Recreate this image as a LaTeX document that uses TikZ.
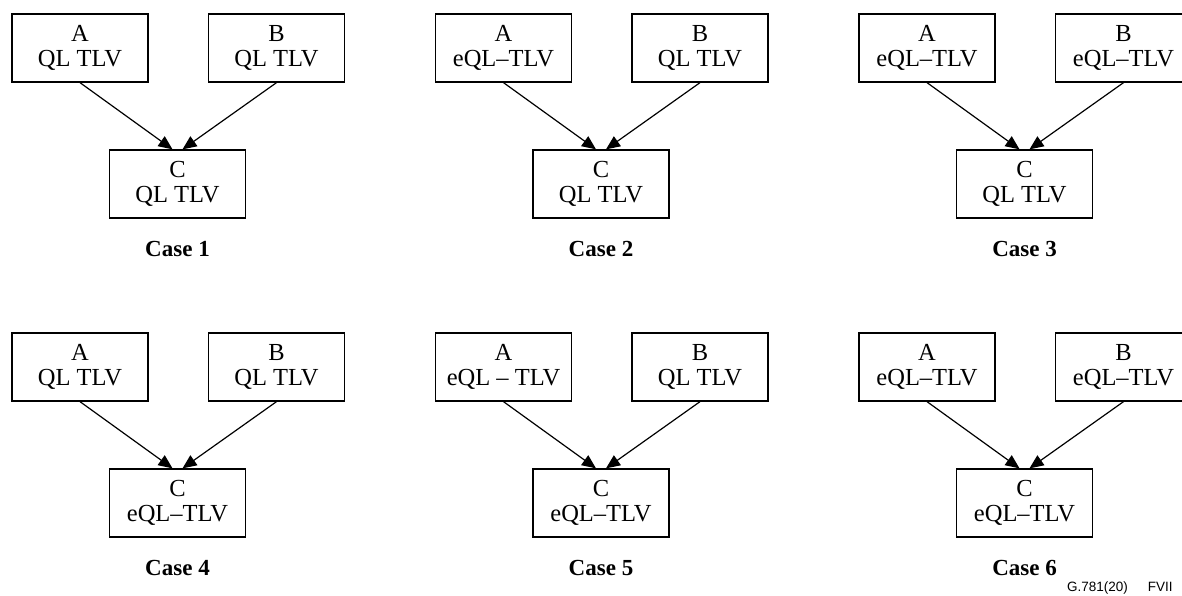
\documentclass[tikz,border=0pt]{standalone}
\usepackage{fontspec}
\setmainfont{Liberation Serif}
\newfontfamily\arialfont{Liberation Sans}
\usetikzlibrary{arrows.meta}
\tikzset{
  tlvbox/.style={draw, line width=1.3pt, minimum width=136pt, minimum height=68pt, inner sep=0pt, align=center, font=\fontsize{24.5}{25}\selectfont},
  caselabel/.style={anchor=base, inner sep=0pt, font=\fontsize{23}{25}\selectfont\bfseries},
  feed/.style={line width=1.2pt, -{Triangle[length=14pt,width=12pt]}}
}
\newcommand\drawcase[7]{%
  \begin{scope}[shift={(#2,#3)}]
    \node[tlvbox] (a#1) at (80,48) {A\\#4};
    \node[tlvbox] (b#1) at (276.5,48) {B\\#5};
    \node[tlvbox] (c#1) at (177.5,184) {C\\#6};
    \node[caselabel] (l#1) at (177.5,256) {#7};
    \coordinate (ca#1) at ([xshift=-5pt]c#1.north);
    \coordinate (cb#1) at ([xshift=5pt]c#1.north);
    \draw[feed] (a#1.south) -- (ca#1);
    \draw[feed] (b#1.south) -- (cb#1);
  \end{scope}}
\begin{document}
\begin{tikzpicture}[x=1pt,y=-1pt]
\useasboundingbox (0,0) rectangle (1182,596);
\clip (0,0) rectangle (1182,596);
\drawcase{1}{0}{0}{QL TLV}{QL TLV}{QL TLV}{Case 1}
\drawcase{2}{423.5}{0}{eQL--TLV}{QL TLV}{QL TLV}{Case 2}
\drawcase{3}{847}{0}{eQL--TLV}{eQL--TLV}{QL TLV}{Case 3}
\drawcase{4}{0}{319}{QL TLV}{QL TLV}{eQL--TLV}{Case 4}
\drawcase{5}{423.5}{319}{eQL -- TLV}{QL TLV}{eQL--TLV}{Case 5}
\drawcase{6}{847}{319}{eQL--TLV}{eQL--TLV}{eQL--TLV}{Case 6}
\node[anchor=base west, inner sep=0pt, font=\arialfont\fontsize{13.5}{15}\selectfont] (fig) at (1067,591) {G.781(20)\hspace{20pt}FVII};
\end{tikzpicture}
\end{document}
